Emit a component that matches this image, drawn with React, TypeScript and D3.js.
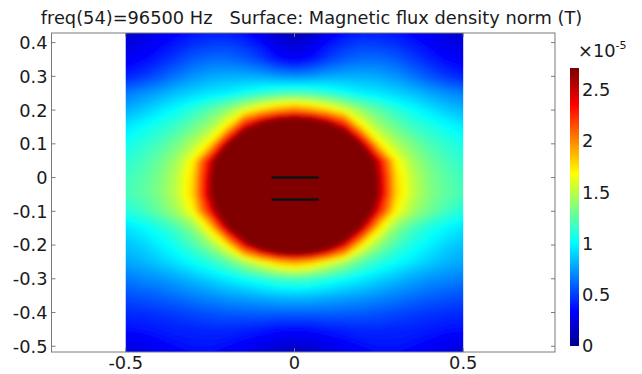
import { useEffect, useRef } from 'react';
import * as d3 from 'd3';

// grid of |B| samples (units of 1e-5 T)
const gridX = [-0.5, -0.45, -0.4, -0.35, -0.3, -0.25, -0.2, -0.15, -0.1, -0.05, 0, 0.05, 0.1, 0.15, 0.2, 0.25, 0.3, 0.35, 0.4, 0.45, 0.5];
const gridY = [0.45, 0.4, 0.35, 0.3, 0.25, 0.2, 0.15, 0.1, 0.05, 0, -0.05, -0.1, -0.15, -0.2, -0.25, -0.3, -0.35, -0.4, -0.45, -0.5, -0.55];

const fieldRows: number[][] = [
  [0.16, 0.2, 0.25, 0.3, 0.34, 0.36, 0.35, 0.3, 0.2, 0.1, 0.06, 0.1, 0.2, 0.3, 0.35, 0.36, 0.34, 0.3, 0.25, 0.2, 0.16],
  [0.22, 0.27, 0.33, 0.39, 0.45, 0.48, 0.49, 0.45, 0.36, 0.25, 0.2, 0.25, 0.36, 0.45, 0.49, 0.48, 0.45, 0.39, 0.33, 0.27, 0.23],
  [0.3, 0.35, 0.42, 0.5, 0.58, 0.62, 0.62, 0.58, 0.5, 0.38, 0.31, 0.38, 0.5, 0.58, 0.62, 0.62, 0.58, 0.5, 0.42, 0.35, 0.31],
  [0.42, 0.48, 0.56, 0.65, 0.73, 0.78, 0.8, 0.8, 0.78, 0.74, 0.72, 0.74, 0.78, 0.8, 0.8, 0.78, 0.73, 0.65, 0.56, 0.48, 0.42],
  [0.66, 0.72, 0.78, 0.85, 0.9, 0.95, 0.98, 1.05, 1.12, 1.18, 1.2, 1.18, 1.12, 1.05, 0.98, 0.95, 0.9, 0.85, 0.78, 0.72, 0.67],
  [0.8, 0.87, 0.95, 1.03, 1.13, 1.25, 1.4, 1.6, 1.8, 1.95, 2.05, 1.95, 1.8, 1.6, 1.4, 1.25, 1.13, 1.03, 0.95, 0.88, 0.82],
  [0.95, 1.02, 1.1, 1.18, 1.3, 1.45, 1.75, 2.45, 2.9, 3.3, 3.4, 3.3, 2.9, 2.45, 1.75, 1.45, 1.3, 1.18, 1.1, 1.03, 0.97],
  [1.05, 1.12, 1.2, 1.32, 1.48, 1.75, 2.6, 3.4, 3.7, 3.9, 4.0, 3.9, 3.7, 3.4, 2.6, 1.75, 1.48, 1.33, 1.21, 1.13, 1.07],
  [1.12, 1.19, 1.29, 1.44, 1.72, 2.45, 3.2, 3.7, 4.1, 4.4, 4.5, 4.4, 4.1, 3.7, 3.2, 2.45, 1.72, 1.45, 1.3, 1.2, 1.13],
  [1.17, 1.24, 1.34, 1.51, 1.8, 2.58, 3.3, 4.0, 4.5, 4.8, 5.0, 4.8, 4.5, 4.0, 3.3, 2.58, 1.8, 1.52, 1.35, 1.25, 1.18],
  [1.19, 1.25, 1.35, 1.52, 1.82, 2.6, 3.3, 4.0, 4.5, 4.8, 5.0, 4.8, 4.5, 4.0, 3.3, 2.6, 1.82, 1.53, 1.36, 1.26, 1.2],
  [1.1, 1.17, 1.29, 1.44, 1.7, 2.35, 3.1, 3.7, 4.1, 4.4, 4.5, 4.4, 4.1, 3.7, 3.1, 2.35, 1.7, 1.45, 1.3, 1.18, 1.1],
  [0.94, 1.0, 1.08, 1.2, 1.38, 1.75, 2.55, 3.2, 3.6, 3.9, 4.0, 3.9, 3.6, 3.2, 2.55, 1.75, 1.38, 1.2, 1.08, 1.0, 0.94],
  [0.85, 0.9, 0.98, 1.07, 1.2, 1.4, 1.72, 2.4, 2.95, 3.4, 3.5, 3.4, 2.95, 2.4, 1.72, 1.4, 1.2, 1.07, 0.98, 0.9, 0.85],
  [0.78, 0.82, 0.88, 0.95, 1.03, 1.12, 1.25, 1.45, 1.65, 1.85, 1.95, 1.85, 1.65, 1.45, 1.25, 1.12, 1.03, 0.95, 0.88, 0.82, 0.78],
  [0.66, 0.7, 0.73, 0.78, 0.84, 0.9, 0.97, 1.03, 1.1, 1.17, 1.2, 1.17, 1.1, 1.03, 0.97, 0.9, 0.84, 0.78, 0.73, 0.7, 0.67],
  [0.55, 0.57, 0.6, 0.64, 0.68, 0.72, 0.76, 0.79, 0.82, 0.85, 0.86, 0.85, 0.82, 0.79, 0.76, 0.72, 0.68, 0.64, 0.6, 0.57, 0.55],
  [0.45, 0.46, 0.48, 0.5, 0.53, 0.56, 0.58, 0.59, 0.6, 0.6, 0.6, 0.6, 0.6, 0.59, 0.58, 0.56, 0.53, 0.5, 0.48, 0.46, 0.45],
  [0.37, 0.38, 0.4, 0.42, 0.43, 0.44, 0.44, 0.42, 0.4, 0.37, 0.36, 0.37, 0.4, 0.42, 0.44, 0.44, 0.43, 0.42, 0.4, 0.38, 0.37],
  [0.25, 0.28, 0.33, 0.36, 0.38, 0.38, 0.36, 0.32, 0.27, 0.22, 0.2, 0.22, 0.27, 0.32, 0.36, 0.38, 0.38, 0.36, 0.33, 0.28, 0.25],
  [0.2, 0.25, 0.28, 0.31, 0.33, 0.33, 0.31, 0.26, 0.2, 0.13, 0.1, 0.13, 0.2, 0.26, 0.31, 0.33, 0.33, 0.31, 0.28, 0.25, 0.2],
];

const xTicks = [-0.5, 0, 0.5];
const yTicks = [0.4, 0.3, 0.2, 0.1, 0, -0.1, -0.2, -0.3, -0.4, -0.5];
const colorTicks = [0, 0.5, 1, 1.5, 2, 2.5];
const colorMax = 2.7;
const coilLevels = [0, -0.065];
const coilSpan = [-0.068, 0.072];

const title = 'freq(54)=96500 Hz   Surface: Magnetic flux density norm (T)';
const FONT = '"DejaVu Sans", Verdana, sans-serif';

export default function App() {
  const svgRef = useRef<SVGSVGElement>(null);

  useEffect(() => {
    if (!svgRef.current) return;
    const svg = d3.select(svgRef.current);
    svg.selectAll('*').remove();

    const x = d3.scaleLinear().domain([-0.72, 0.772]).range([51.5, 555]);
    const y = d3.scaleLinear().domain([-0.517, 0.4285]).range([352, 33]);
    const [x0, x1] = x.range();
    const [yb, yt] = y.range();

    const jet = d3
      .scaleLinear<string>()
      .domain([0, 0.125, 0.375, 0.625, 0.875, 1].map(t => t * colorMax))
      .range(['#00008f', '#0000ff', '#00ffff', '#ffff00', '#ff0000', '#800000'])
      .interpolate(d3.interpolateRgb)
      .clamp(true);

    const defs = svg.append('defs');
    defs.append('clipPath')
      .attr('id', 'dom-clip')
      .append('rect')
      .attr('x', x(-0.5))
      .attr('y', yt)
      .attr('width', x(0.5) - x(-0.5))
      .attr('height', yb - yt);
    defs.append('filter')
      .attr('id', 'soft')
      .attr('filterUnits', 'userSpaceOnUse')
      .attr('x', 0).attr('y', 0).attr('width', 642).attr('height', 374)
      .append('feGaussianBlur')
      .attr('stdDeviation', 2.8);

    // surface, as filled contour bands
    const nx = gridX.length;
    const ny = gridY.length;
    const step = 0.02;
    const thresholds = d3.range(0, colorMax + 1e-9, step);
    const bands = d3.contours().size([nx, ny]).thresholds(thresholds)(fieldRows.flat());
    const dx = gridX[1] - gridX[0];
    const dy = gridY[1] - gridY[0];
    const proj = d3.geoTransform({
      point(px: number, py: number) {
        this.stream.point(x(gridX[0] + (px - 0.5) * dx), y(gridY[0] + (py - 0.5) * dy));
      },
    });
    const path = d3.geoPath(proj);

    svg.append('g')
      .attr('clip-path', 'url(#dom-clip)')
      .append('g')
      .attr('filter', 'url(#soft)')
      .selectAll('path')
      .data(bands)
      .enter()
      .append('path')
      .attr('d', d => path(d as any) || '')
      .attr('fill', d => jet(Math.min(d.value + step / 2, colorMax)));

    // coils
    svg.append('g')
      .selectAll('line')
      .data(coilLevels)
      .enter()
      .append('line')
      .attr('x1', x(coilSpan[0]))
      .attr('x2', x(coilSpan[1]))
      .attr('y1', d => y(d))
      .attr('y2', d => y(d))
      .attr('stroke', '#111')
      .attr('stroke-width', 2.5);

    // frame
    svg.append('rect')
      .attr('x', x0).attr('y', yt)
      .attr('width', x1 - x0).attr('height', yb - yt)
      .attr('fill', 'none')
      .attr('stroke', '#7a7a7a')
      .attr('stroke-width', 1);

    const tickLen = 4;
    const ticks = svg.append('g').attr('stroke', '#7a7a7a').attr('stroke-width', 1);
    yTicks.forEach(t => {
      ticks.append('line').attr('x1', x0).attr('x2', x0 + tickLen).attr('y1', y(t)).attr('y2', y(t));
      ticks.append('line').attr('x1', x1).attr('x2', x1 - tickLen).attr('y1', y(t)).attr('y2', y(t));
    });
    xTicks.forEach(t => {
      ticks.append('line').attr('x1', x(t)).attr('x2', x(t)).attr('y1', yb).attr('y2', yb - tickLen);
      ticks.append('line').attr('x1', x(t)).attr('x2', x(t)).attr('y1', yt).attr('y2', yt + tickLen);
    });

    const labels = svg.append('g')
      .attr('font-family', FONT)
      .attr('font-size', 17.8)
      .attr('fill', '#1a1a1a')
      .style('white-space', 'pre');

    labels.selectAll('.ylab')
      .data(yTicks)
      .enter()
      .append('text')
      .attr('class', 'ylab')
      .attr('x', x0 - 4)
      .attr('y', d => y(d))
      .attr('dy', '0.36em')
      .attr('text-anchor', 'end')
      .text(d => String(d));

    labels.selectAll('.xlab')
      .data(xTicks)
      .enter()
      .append('text')
      .attr('class', 'xlab')
      .attr('x', d => x(d))
      .attr('y', yb + 17)
      .attr('text-anchor', 'middle')
      .text(d => String(d));

    labels.append('text')
      .attr('x', 311.5)
      .attr('y', 24)
      .attr('text-anchor', 'middle')
      .attr('xml:space', 'preserve')
      .text(title);

    // colour bar
    const c = d3.scaleLinear().domain([0, 2.705]).range([345.5, 69]);
    const cbX = 570;
    const cbW = 9;
    const cbStep = 0.01;
    svg.append('g')
      .selectAll('rect')
      .data(d3.range(0, 2.705, cbStep))
      .enter()
      .append('rect')
      .attr('x', cbX)
      .attr('width', cbW)
      .attr('y', d => c(d + cbStep) - 0.5)
      .attr('height', d => c(d) - c(d + cbStep) + 1)
      .attr('fill', d => jet(d + cbStep / 2));

    labels.selectAll('.clab')
      .data(colorTicks)
      .enter()
      .append('text')
      .attr('class', 'clab')
      .attr('x', cbX + cbW + 3)
      .attr('y', d => c(d))
      .attr('dy', '0.36em')
      .text(d => String(d));

    const exp = labels.append('text').attr('x', 578).attr('y', 57);
    exp.append('tspan').text('×10');
    exp.append('tspan').attr('font-size', 11).attr('dy', -8).text('-5');
  }, []);

  return (
    <div style={{ position: 'absolute', left: 0, top: 0 }}>
      <svg ref={svgRef} width={642} height={374} style={{ display: 'block', background: '#fff' }} />
    </div>
  );
}
